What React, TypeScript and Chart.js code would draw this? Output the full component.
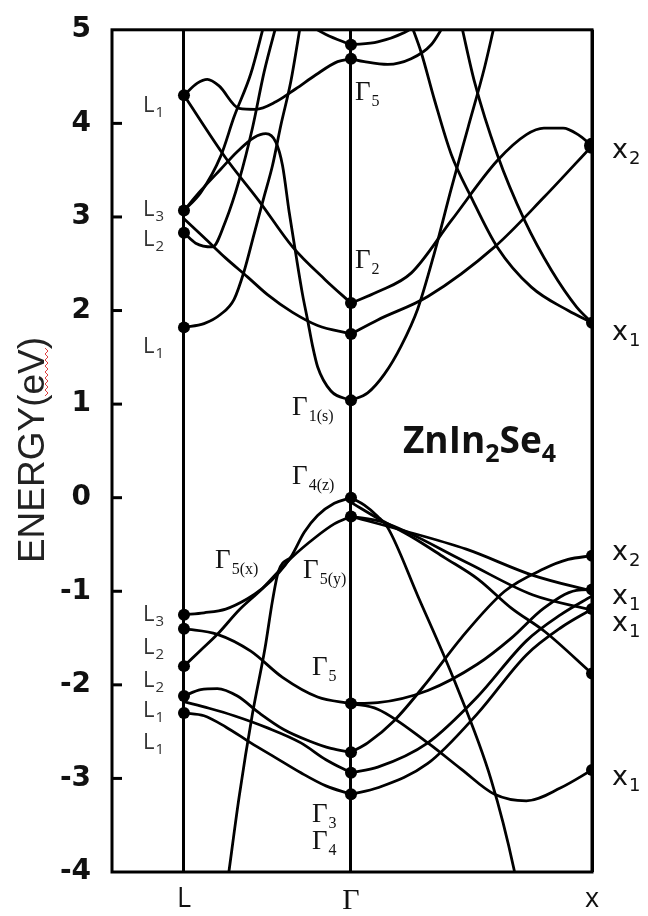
import React, { useEffect, useRef } from "react";
import { Chart, registerables } from "chart.js";

Chart.register(...registerables);

// Positions of the high-symmetry points along the k path
const K_L = 0;
const K_GAMMA = 1;
const K_X = 2.443;
const K_START = -0.431;

const E_MIN = -4;
const E_MAX = 5;

const X_TICK_VALUES = [K_L, K_GAMMA, K_X];
const X_TICK_LABELS = ["L", "Γ", "x"];

type Pt = [number, number];

// ---- Conduction bands, L → Γ ----
const cLHump: Pt[] = [[0, 4.3], [0.08, 4.43], [0.14, 4.47], [0.21, 4.4], [0.33, 4.16], [0.43, 4.15], [0.55, 4.23], [0.67, 4.37], [0.79, 4.52], [0.92, 4.66], [1, 4.69]];
const cLTopToG5: Pt[] = [[0.74, 5.06], [0.85, 4.95], [1, 4.84]];
const cLL1ToG2: Pt[] = [[0, 4.3], [0.25, 3.63], [0.45, 3.17], [0.65, 2.68], [0.845, 2.33], [1, 2.08]];
const cLL3Peak: Pt[] = [[0, 3.07], [0.1, 3.28], [0.22, 3.51], [0.32, 3.7], [0.42, 3.85], [0.49, 3.89], [0.55, 3.8], [0.59, 3.55], [0.63, 3.05], [0.67, 2.6], [0.71, 2.17], [0.74, 1.9], [0.77, 1.62], [0.8, 1.4], [0.88, 1.14], [1, 1.04]];
const cLL2Steep: Pt[] = [[0, 2.83], [0.07, 2.72], [0.17, 2.68], [0.25, 2.96], [0.33, 3.39], [0.41, 3.95], [0.48, 4.55], [0.56, 5.1]];
const cLL3Down: Pt[] = [[0, 2.98], [0.12, 2.78], [0.25, 2.56], [0.38, 2.36], [0.5, 2.17], [0.65, 1.98], [0.8, 1.84], [1, 1.75]];
const cLL1Rise: Pt[] = [[0, 1.82], [0.12, 1.86], [0.22, 1.96], [0.3, 2.12], [0.36, 2.42], [0.42, 2.82], [0.48, 3.22], [0.53, 3.55], [0.58, 3.98], [0.64, 4.45], [0.7, 5.08]];
const cLL3Steep: Pt[] = [[0, 3.07], [0.1, 3.26], [0.22, 3.65], [0.3, 4.07], [0.4, 4.53], [0.48, 5.06]];

// ---- Conduction bands, Γ → X ----
const cXArcUpper: Pt[] = [[1, 4.84], [1.16, 4.87], [1.32, 4.97], [1.4, 5.06]];
const cXArcLower: Pt[] = [[1, 4.69], [1.08, 4.66], [1.22, 4.63], [1.36, 4.69], [1.48, 4.84], [1.56, 5.06]];
const cXDown1: Pt[] = [[1.36, 5.06], [1.42, 4.76], [1.5, 4.25], [1.6, 3.67], [1.72, 3.21], [1.875, 2.68], [2.08, 2.25], [2.3, 2.0], [2.443, 1.87]];
const cXDown2: Pt[] = [[1.66, 5.06], [1.74, 4.44], [1.875, 3.67], [2.04, 2.96], [2.2, 2.43], [2.35, 2.04], [2.443, 1.87]];
const cXG1Rise: Pt[] = [[1, 1.04], [1.1, 1.12], [1.2, 1.32], [1.3, 1.62], [1.4, 2.02], [1.5, 2.62], [1.6, 3.3], [1.7, 3.95], [1.8, 4.6], [1.86, 5.06]];
const cXG2Arc: Pt[] = [[1, 2.08], [1.16, 2.2], [1.36, 2.4], [1.6, 2.96], [1.875, 3.6], [2.05, 3.88], [2.155, 3.95], [2.27, 3.95], [2.36, 3.88], [2.443, 3.76]];
const cXG175Line: Pt[] = [[1, 1.75], [1.16, 1.9], [1.46, 2.15], [1.86, 2.68], [2.155, 3.21], [2.443, 3.76]];

// ---- Valence bands, L → Γ ----
const vLL3Top: Pt[] = [[0, -1.25], [0.12, -1.23], [0.25, -1.19], [0.38, -1.08], [0.47, -0.97], [0.56, -0.82], [0.645, -0.62], [0.72, -0.37], [0.8, -0.19], [0.9, -0.06], [1, 0.0]];
const vLL2Top: Pt[] = [[0, -1.8], [0.1, -1.63], [0.2, -1.46], [0.33, -1.2], [0.47, -0.97], [0.56, -0.8], [0.645, -0.64], [0.79, -0.42], [0.9, -0.28], [1, -0.2]];
const vLSteep: Pt[] = [[0.265, -4.05], [0.33, -3.2], [0.41, -2.31], [0.485, -1.61], [0.53, -1.1], [0.565, -0.79], [0.645, -0.63]];
const vLL2ToG5: Pt[] = [[0, -1.4], [0.2, -1.46], [0.4, -1.64], [0.59, -1.92], [0.8, -2.13], [1, -2.2]];
const vLL1Hump: Pt[] = [[0, -2.12], [0.1, -2.05], [0.2, -2.04], [0.32, -2.12], [0.45, -2.3], [0.6, -2.48], [0.75, -2.6], [0.88, -2.68], [1, -2.72]];
const vLL1Mid: Pt[] = [[0, -2.18], [0.15, -2.25], [0.3, -2.33], [0.5, -2.46], [0.7, -2.62], [0.85, -2.8], [1, -2.94]];
const vLL1Low: Pt[] = [[0, -2.3], [0.12, -2.33], [0.25, -2.45], [0.4, -2.62], [0.55, -2.78], [0.7, -2.94], [0.85, -3.08], [1, -3.17]];

// ---- Valence bands, Γ → X ----
const vXSteep: Pt[] = [[1, 0.0], [1.08, -0.08], [1.16, -0.2], [1.22, -0.32], [1.4, -1.05], [1.62, -1.96], [1.84, -3.02], [1.976, -3.97], [2.0, -4.2]];
const vXTopA: Pt[] = [[1, -0.2], [1.29, -0.34], [1.69, -0.55], [2.09, -0.83], [2.443, -1.0]];
const vXTopB: Pt[] = [[1, -0.2], [1.19, -0.26], [1.69, -0.69], [2.09, -1.04], [2.443, -1.2]];
const vXTopC: Pt[] = [[1, -0.05], [1.16, -0.22], [1.365, -0.42], [1.56, -0.64], [1.76, -0.87], [1.96, -1.18], [2.16, -1.43], [2.443, -1.88]];
const vXRise1: Pt[] = [[1, -2.2], [1.16, -2.19], [1.46, -2.06], [1.756, -1.78], [1.96, -1.5], [2.155, -1.18], [2.35, -0.99], [2.443, -0.98]];
const vXRise2: Pt[] = [[1, -2.72], [1.1, -2.62], [1.26, -2.38], [1.46, -1.96], [1.66, -1.5], [1.92, -1.0], [2.155, -0.76], [2.3, -0.66], [2.443, -0.62]];
const vXRise3: Pt[] = [[1, -2.94], [1.16, -2.88], [1.46, -2.62], [1.756, -2.13], [2.05, -1.53], [2.256, -1.25], [2.443, -1.05]];
const vXRise4: Pt[] = [[1, -3.17], [1.16, -3.1], [1.46, -2.84], [1.756, -2.31], [2.05, -1.68], [2.256, -1.39], [2.443, -1.19]];
const vXDip: Pt[] = [[1, -2.2], [1.16, -2.26], [1.46, -2.62], [1.66, -2.9], [1.86, -3.17], [2.05, -3.24], [2.256, -3.1], [2.443, -2.91]];

const BANDS: Pt[][] = [
  cLHump, cLTopToG5, cLL1ToG2, cLL3Peak, cLL2Steep, cLL3Down, cLL1Rise, cLL3Steep,
  cXArcUpper, cXArcLower, cXDown1, cXDown2, cXG1Rise, cXG2Arc, cXG175Line,
  vLL3Top, vLL2Top, vLSteep, vLL2ToG5, vLL1Hump, vLL1Mid, vLL1Low,
  vXSteep, vXTopA, vXTopB, vXTopC, vXRise1, vXRise2, vXRise3, vXRise4, vXDip,
];

// Eigenvalues marked at the high-symmetry points
const DOTS_L = [4.3, 3.07, 2.83, 1.82, -1.25, -1.4, -1.8, -2.12, -2.3];
const DOTS_GAMMA = [4.84, 4.69, 2.08, 1.75, 1.04, 0.0, -0.2, -2.2, -2.72, -2.94, -3.17];
const DOTS_X = [3.76, 1.87, -0.62, -0.98, -1.19, -1.88, -2.91];

// State labels: [subscript, energy]
const L_LABELS: [string, number][] = [["1", 4.21], ["3", 3.1], ["2", 2.77], ["1", 1.63], ["3", -1.23], ["2", -1.59], ["2", -1.94], ["1", -2.26], ["1", -2.6]];
// [subscript, k, energy]
const GAMMA_LABELS: [string, number, number][] = [
  ["5", 1.024, 4.35], ["2", 1.024, 2.55], ["1(s)", 0.647, 0.98], ["4(z)", 0.647, 0.24],
  ["5(x)", 0.186, -0.66], ["5(y)", 0.713, -0.76], ["5", 0.766, -1.8], ["3", 0.766, -3.37], ["4", 0.766, -3.66],
];
const X_LABELS: [string, number][] = [["2", 3.71], ["1", 1.76], ["2", -0.59], ["1", -1.06], ["1", -1.34], ["1", -2.99]];

const COMPOUND = ["Zn", "In", "2", "Se", "4"];

function drawSub(
  ctx: CanvasRenderingContext2D, x: number, yMid: number, main: string, sub: string,
  mainFont: string, subFont: string, capH: number, drop: number, color: string
) {
  ctx.fillStyle = color;
  ctx.textAlign = "left";
  ctx.textBaseline = "alphabetic";
  ctx.font = mainFont;
  const base = yMid + capH / 2;
  ctx.fillText(main, x, base);
  const w = ctx.measureText(main).width;
  ctx.font = subFont;
  ctx.fillText(sub, x + w + 1, base + drop);
}

const decorations = {
  id: "bandDecorations",
  afterDraw(chart: any) {
    const { ctx, chartArea: a, scales } = chart;
    const xs = scales.x;
    const ys = scales.y;
    ctx.save();

    // frame
    ctx.strokeStyle = "#000";
    ctx.lineWidth = 3;
    ctx.strokeRect(a.left, a.top, a.right - a.left, a.bottom - a.top);

    // inward tick marks on the energy axis
    for (let e = E_MIN + 1; e < E_MAX; e++) {
      const y = ys.getPixelForValue(e);
      ctx.beginPath();
      ctx.moveTo(a.left, y);
      ctx.lineTo(a.left + 10, y);
      ctx.stroke();
    }

    // L labels
    const xL = xs.getPixelForValue(K_L);
    for (const [s, e] of L_LABELS) {
      drawSub(ctx, xL - 41, ys.getPixelForValue(e), "L", s, '22px "Open Sans"', '15px "Open Sans"', 16, 5, "#333");
    }
    // Γ labels
    for (const [s, k, e] of GAMMA_LABELS) {
      drawSub(ctx, xs.getPixelForValue(k), ys.getPixelForValue(e), "Γ", s, '27px "Liberation Serif"', '16px "Liberation Serif"', 18, 6, "#111");
    }
    // X labels
    const xX = xs.getPixelForValue(K_X);
    for (const [s, e] of X_LABELS) {
      drawSub(ctx, xX + 20, ys.getPixelForValue(e), "x", s, '27px "DejaVu Sans"', '18px "DejaVu Sans"', 15, 6, "#111");
    }

    // compound name
    let tx = xs.getPixelForValue(1.311);
    const tb = ys.getPixelForValue(0.476);
    ctx.fillStyle = "#111";
    ctx.textBaseline = "alphabetic";
    ctx.textAlign = "left";
    COMPOUND.forEach((part, i) => {
      const isSub = i === 2 || i === 4;
      ctx.font = isSub ? 'bold 25px "Open Sans"' : 'bold 37px "Open Sans"';
      ctx.fillText(part, tx, isSub ? tb + 9 : tb);
      tx += ctx.measureText(part).width;
    });

    // energy axis title
    ctx.save();
    ctx.translate(44, 450);
    ctx.rotate(-Math.PI / 2);
    ctx.font = '37px "Liberation Sans"';
    ctx.fillStyle = "#222";
    ctx.textAlign = "center";
    ctx.textBaseline = "alphabetic";
    ctx.fillText("ENERGY(eV)", 0, 0);
    ctx.restore();

    // wavy underline under "eV"
    ctx.strokeStyle = "#e04040";
    ctx.lineWidth = 1;
    ctx.beginPath();
    for (let y = 348, i = 0; y <= 396; y += 3, i++) {
      const x = i % 2 === 0 ? 45 : 48;
      if (i === 0) ctx.moveTo(x, y);
      else ctx.lineTo(x, y);
    }
    ctx.stroke();

    ctx.restore();
  },
};

export default function App() {
  const ref = useRef<HTMLCanvasElement | null>(null);

  useEffect(() => {
    document.body.style.margin = "0";
    const canvas = ref.current;
    if (!canvas) return;

    const bandSets = BANDS.map((b) => ({
      data: b.map(([x, y]) => ({ x, y })),
      borderColor: "#000",
      borderWidth: 2.8,
      pointRadius: 0,
      fill: false,
      cubicInterpolationMode: "monotone" as const,
    }));

    const dots = [
      ...DOTS_L.map((y) => ({ x: K_L, y })),
      ...DOTS_GAMMA.map((y) => ({ x: K_GAMMA, y })),
      ...DOTS_X.map((y) => ({ x: K_X, y })),
    ];
    const dotRadius = dots.map((d) => (d.x === K_X && d.y === DOTS_X[0] ? 8 : 6));

    const chart = new Chart(canvas, {
      type: "line",
      data: {
        datasets: [
          ...bandSets,
          {
            data: dots,
            showLine: false,
            pointRadius: dotRadius,
            pointBackgroundColor: "#000",
            pointBorderWidth: 0,
            borderColor: "#000",
          } as any,
        ],
      },
      options: {
        animation: false,
        responsive: false,
        maintainAspectRatio: false,
        layout: { padding: { top: 22, right: 56, left: 0, bottom: 0 } },
        plugins: { legend: { display: false }, tooltip: { enabled: false } },
        scales: {
          x: {
            type: "linear",
            min: K_START,
            max: K_X,
            afterBuildTicks: (s: any) => {
              s.ticks = X_TICK_VALUES.map((value) => ({ value }));
            },
            afterFit: (s: any) => {
              s.height = 44;
            },
            ticks: {
              autoSkip: false,
              maxRotation: 0,
              padding: 11,
              color: "#111",
              callback: (_v: any, i: number) => X_TICK_LABELS[i],
              font: (c: any) =>
                c.index === 1
                  ? { family: "Liberation Serif", size: 30 }
                  : { family: "Open Sans", size: 27 },
            },
            grid: { color: "#000", lineWidth: 3, drawTicks: false },
            border: { display: false },
          },
          y: {
            min: E_MIN,
            max: E_MAX,
            afterFit: (s: any) => {
              s.width = 112;
            },
            ticks: {
              stepSize: 1,
              padding: 13,
              color: "#111",
              font: { family: "DejaVu Sans", size: 28, weight: "bold" },
            },
            grid: { display: false },
            border: { display: false },
          },
        },
      } as any,
      plugins: [decorations],
    });

    return () => chart.destroy();
  }, []);

  return <canvas ref={ref} width={648} height={916} style={{ display: "block" }} />;
}
